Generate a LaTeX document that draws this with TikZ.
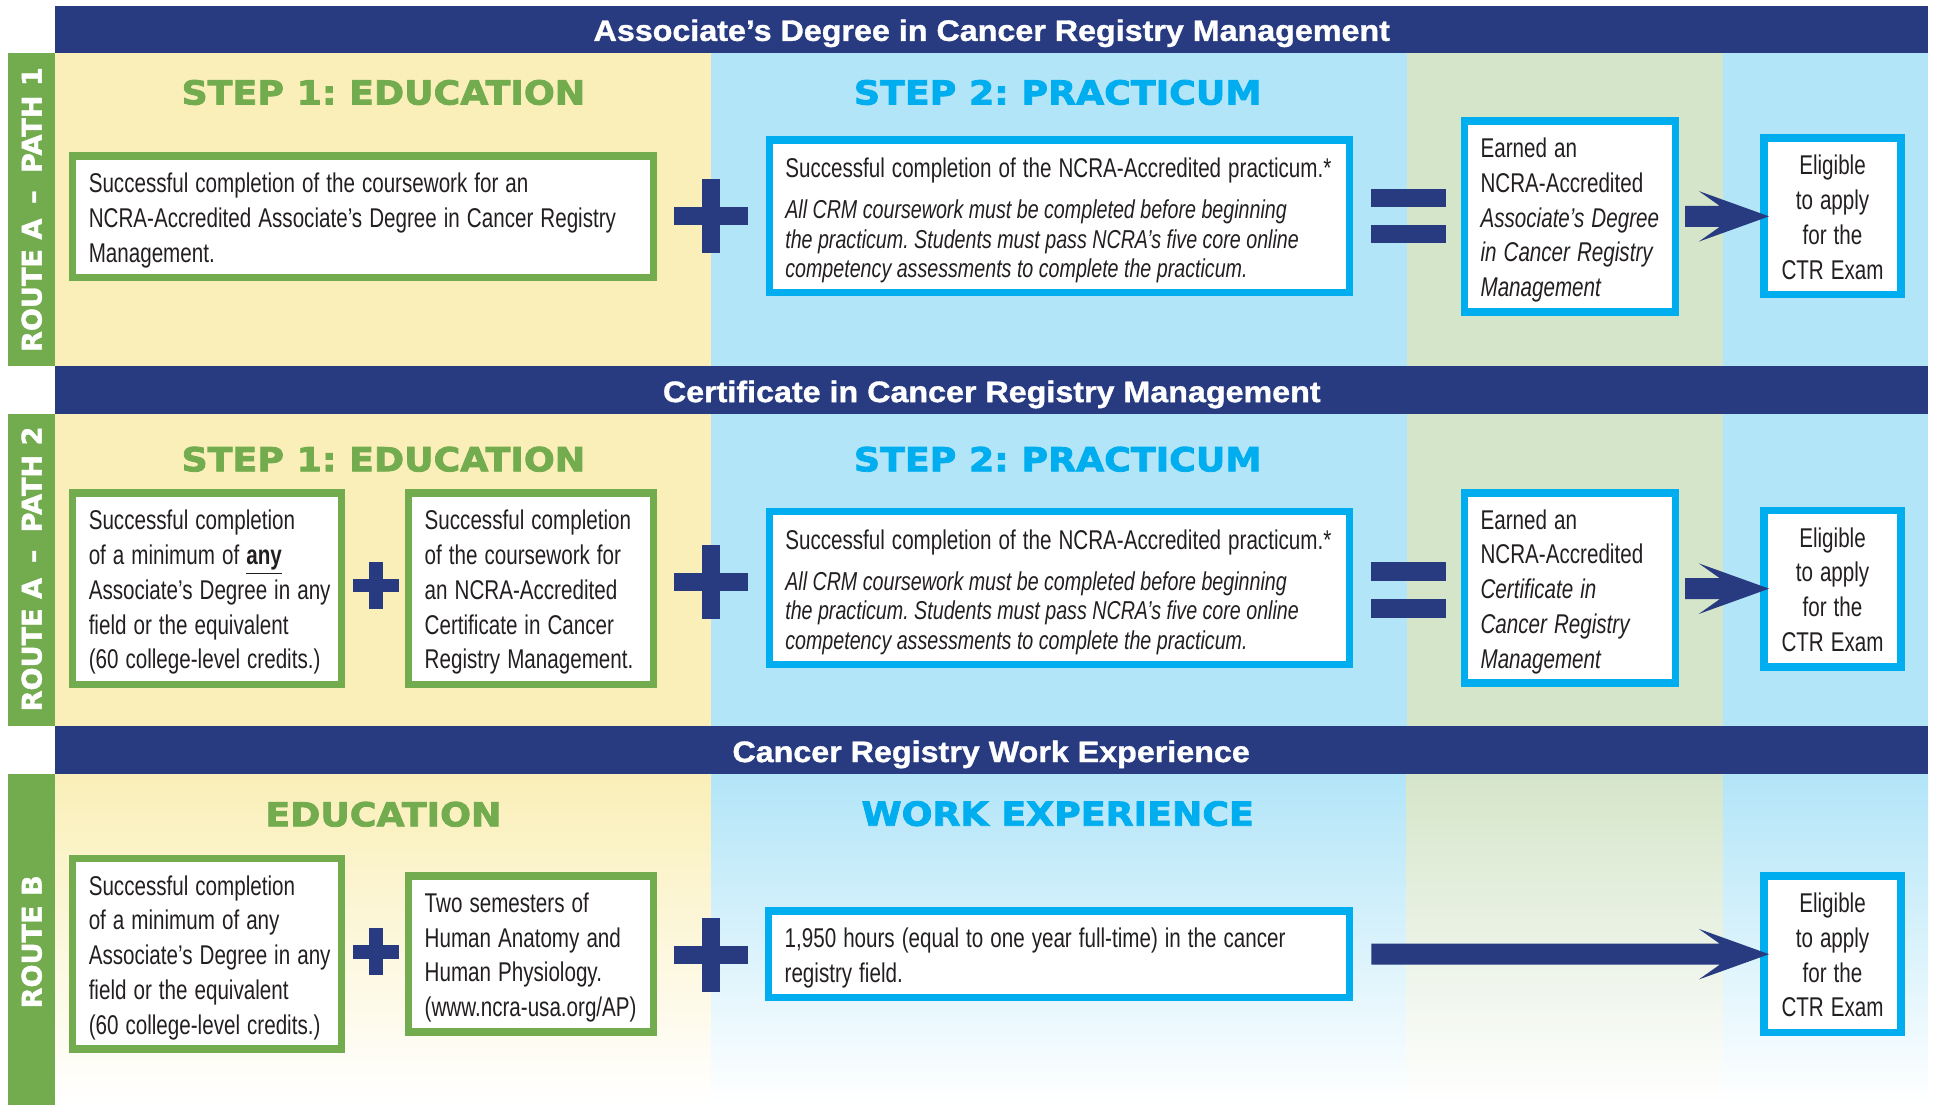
\documentclass[tikz,border=0pt]{standalone}
\usepackage{fontspec}
\setmainfont{Liberation Sans}[FakeStretch=0.76]
\newfontfamily\bannerfont{Liberation Sans}[FakeStretch=1.09,FakeBold=1.2]
\newfontfamily\headfont{DejaVu Sans}[FakeStretch=1.1,FakeBold=2.5]
\newfontfamily\routefont{DejaVu Sans}[FakeBold=1.5]
\usetikzlibrary{calc}
\frenchspacing
\definecolor{navy}{HTML}{283B80}
\definecolor{grn}{HTML}{72AC4E}
\definecolor{yel}{HTML}{FAEFB8}
\definecolor{lblue}{HTML}{B2E5F8}
\definecolor{sage}{HTML}{D5E5CA}
\definecolor{cyn}{HTML}{00AEEF}
\definecolor{ink}{HTML}{231F20}
\newcommand\bodyfont{\fontsize{11pt}{14.1pt}\selectfont}
\newcommand\txtl[1]{\spaceskip=2.85pt\relax\raisebox{-1.5pt}[\height][\depth]{\begin{tabular}{@{}l@{}}#1\end{tabular}}}
\newcommand\txti[1]{{\fontsize{10.5pt}{12pt}\selectfont\itshape\spaceskip=2.2pt\relax\raisebox{-1.5pt}[\height][\depth]{\begin{tabular}{@{}l@{}}#1\end{tabular}}}}
\newcommand\txtc[1]{\spaceskip=2.85pt\relax\raisebox{-1.5pt}[\height][\depth]{\begin{tabular}{@{}c@{}}#1\end{tabular}}}
\newcommand\navyarrow[2]{\fill[navy] let \p1=(#1), \p2=(#2) in
  (\x1,\y2+4.25pt) -- (\x2-20pt,\y2+4.25pt) -- (\x2-28.5pt,\y2+10.25pt) -- (\x2,\y2)
  -- (\x2-28.5pt,\y2-10.25pt) -- (\x2-20pt,\y2-4.25pt) -- (\x1,\y2-4.25pt) -- cycle;}
\newcommand\plusbig[2]{\fill[navy] (#1-30,#2-7.25) rectangle (#1+30,#2+7.25);
  \fill[navy] (#1-7.25,#2-30) rectangle (#1+7.25,#2+30);}
\newcommand\plussmall[2]{\fill[navy] (#1-19,#2-5.5) rectangle (#1+19,#2+5.5);
  \fill[navy] (#1-5.5,#2-19) rectangle (#1+5.5,#2+19);}
\tikzset{
  body/.style={font=\bodyfont, text=ink},
  gbox/.style={draw=grn, line width=3pt, fill=white, inner xsep=6.5pt, inner ysep=0pt, align=left, body},
  cbox/.style={draw=cyn, line width=3pt, fill=white, inner xsep=6.5pt, inner ysep=0pt, align=left, body},
  eligbox/.style={draw=cyn, line width=3pt, fill=white, inner sep=0pt, align=center, body,
    minimum width=55.5pt, minimum height=63.5pt},
  banner/.style={text=white, font=\bannerfont\bfseries\fontsize{12pt}{14pt}\selectfont},
  headg/.style={text=grn, font=\headfont\bfseries\fontsize{13.4pt}{16pt}\selectfont},
  headc/.style={headg, text=cyn},
  route/.style={text=white, rotate=90, font=\routefont\bfseries\fontsize{11pt}{13pt}\selectfont},
}
\begin{document}
\begin{tikzpicture}[x=0.5pt,y=-0.5pt]
\useasboundingbox (0,0) rectangle (1568,896);
% ---------- backgrounds ----------
\fill[yel] (45,43) rectangle (577,297);
\fill[lblue] (577,43) rectangle (1141,297);
\fill[sage] (1141,43) rectangle (1398,297);
\fill[lblue] (1398,43) rectangle (1564,297);
\fill[yel] (45,336) rectangle (577,589);
\fill[lblue] (577,336) rectangle (1141,589);
\fill[sage] (1141,336) rectangle (1398,589);
\fill[lblue] (1398,336) rectangle (1564,589);
\shade[top color=yel, bottom color=white] (45,628) rectangle (577,896);
\shade[top color=lblue, bottom color=white] (577,628) rectangle (1141,896);
\shade[top color=sage, bottom color=white] (1141,628) rectangle (1398,896);
\shade[top color=lblue, bottom color=white] (1398,628) rectangle (1564,896);
% ---------- banners ----------
\fill[navy] (45,5) rectangle (1564,43);
\fill[navy] (45,297) rectangle (1564,336);
\fill[navy] (45,589) rectangle (1564,628);
\node[banner] (ban1) at (804.5,27) {Associate’s Degree in Cancer Registry Management};
\node[banner] (ban2) at (804.5,320) {Certificate in Cancer Registry Management};
\node[banner] (ban3) at (804,612) {Cancer Registry Work Experience};
% ---------- side bars ----------
\fill[grn] (6.5,43) rectangle (45,297);
\fill[grn] (6.5,336) rectangle (45,589);
\fill[grn] (6.5,628) rectangle (45,896);
\node[route] (r1) at (25.75,170) {ROUTE A\hspace{6pt}–\hspace{7pt}PATH 1};
\node[route] (r2) at (25.75,461.5) {ROUTE A\hspace{6pt}–\hspace{7pt}PATH 2};
\node[route] (r3) at (25.75,764) {ROUTE B};
% ---------- headings ----------
\node[headg] (h11) at (311,75) {STEP 1: EDUCATION};
\node[headc] (h12) at (858,75) {STEP 2: PRACTICUM};
\node[headg] (h21) at (311,372.5) {STEP 1: EDUCATION};
\node[headc] (h22) at (858,372.5) {STEP 2: PRACTICUM};
\node[headg] (h31) at (311,660.5) {EDUCATION};
\node[headc] (h32) at (858,660) {WORK EXPERIENCE};
% ---------- row 1 ----------
\node[gbox, text width=222.5pt, minimum height=49.25pt] (ed1) at (294.5,175.75)
  {\txtl{Successful completion of the coursework for an\\NCRA-Accredited Associate’s Degree in Cancer Registry\\Management.}};
\plusbig{577}{175.5}
\node[cbox, text width=222.25pt, minimum height=62pt] (pr1) at (859.25,175.5)
  {\txtl{Successful completion of the NCRA-Accredited practicum.*}\\[3pt]%
   \txti{All CRM coursework must be completed before beginning\\the practicum. Students must pass NCRA’s five core online\\competency assessments to complete the practicum.}};
\fill[navy] (1112,153) rectangle (1173,168);
\fill[navy] (1112,182.5) rectangle (1173,197);
\node[cbox, text width=72.5pt, minimum height=77.5pt] (earn1) at (1273.5,175.5)
  {\txtl{Earned an\\NCRA-Accredited\\\textit{Associate’s Degree}\\\textit{in Cancer Registry}\\\textit{Management}}};
\node[eligbox] (elig1) at (1486.5,175.5) {\txtc{Eligible\\to apply\\for the\\CTR Exam}};
\navyarrow{$(earn1.east)+(5,0)$}{$(elig1.west)+(7,0)$}
% ---------- row 2 ----------
\node[gbox, text width=96pt, minimum height=77.5pt] (ed2a) at (168,477.5)
  {\txtl{Successful completion\\of a minimum of \underline{\textbf{any}}\\Associate’s Degree in any\\field or the equivalent\\(60 college-level credits.)}};
\plussmall{305}{475}
\node[gbox, text width=86.25pt, minimum height=77.5pt] (ed2b) at (430.75,477.5)
  {\txtl{Successful completion\\of the coursework for\\an NCRA-Accredited\\Certificate in Cancer\\Registry Management.}};
\plusbig{577}{472}
\node[cbox, text width=222.25pt, minimum height=62pt] (pr2) at (859.25,477)
  {\txtl{Successful completion of the NCRA-Accredited practicum.*}\\[3pt]%
   \txti{All CRM coursework must be completed before beginning\\the practicum. Students must pass NCRA’s five core online\\competency assessments to complete the practicum.}};
\fill[navy] (1112,456) rectangle (1173,471.5);
\fill[navy] (1112,486) rectangle (1173,501.5);
\node[cbox, text width=72.5pt, minimum height=77pt] (earn2) at (1273.5,477)
  {\txtl{Earned an\\NCRA-Accredited\\\textit{Certificate in}\\\textit{Cancer Registry}\\\textit{Management}}};
\node[eligbox] (elig2) at (1486.5,477.5) {\txtc{Eligible\\to apply\\for the\\CTR Exam}};
\navyarrow{$(earn2.east)+(5,0)$}{$(elig2.west)+(7,0)$}
% ---------- row 3 ----------
\node[gbox, text width=96pt, minimum height=77.25pt] (ed3a) at (168,773.75)
  {\txtl{Successful completion\\of a minimum of any\\Associate’s Degree in any\\field or the equivalent\\(60 college-level credits.)}};
\plussmall{305}{772}
\node[gbox, text width=86.25pt, minimum height=63.25pt] (ed3b) at (430.75,773.75)
  {\txtl{Two semesters of\\Human Anatomy and\\Human Physiology.\\(www.ncra-usa.org/AP)}};
\plusbig{577}{775}
\node[cbox, text width=222.5pt, minimum height=35pt] (work) at (859,774)
  {\txtl{1,950 hours (equal to one year full-time) in the cancer\\registry field.}};
\node[eligbox] (elig3) at (1486.5,774) {\txtc{Eligible\\to apply\\for the\\CTR Exam}};
\navyarrow{$(work.east)+(15,0)$}{$(elig3.west)+(7,0)$}
\end{tikzpicture}
\end{document}
